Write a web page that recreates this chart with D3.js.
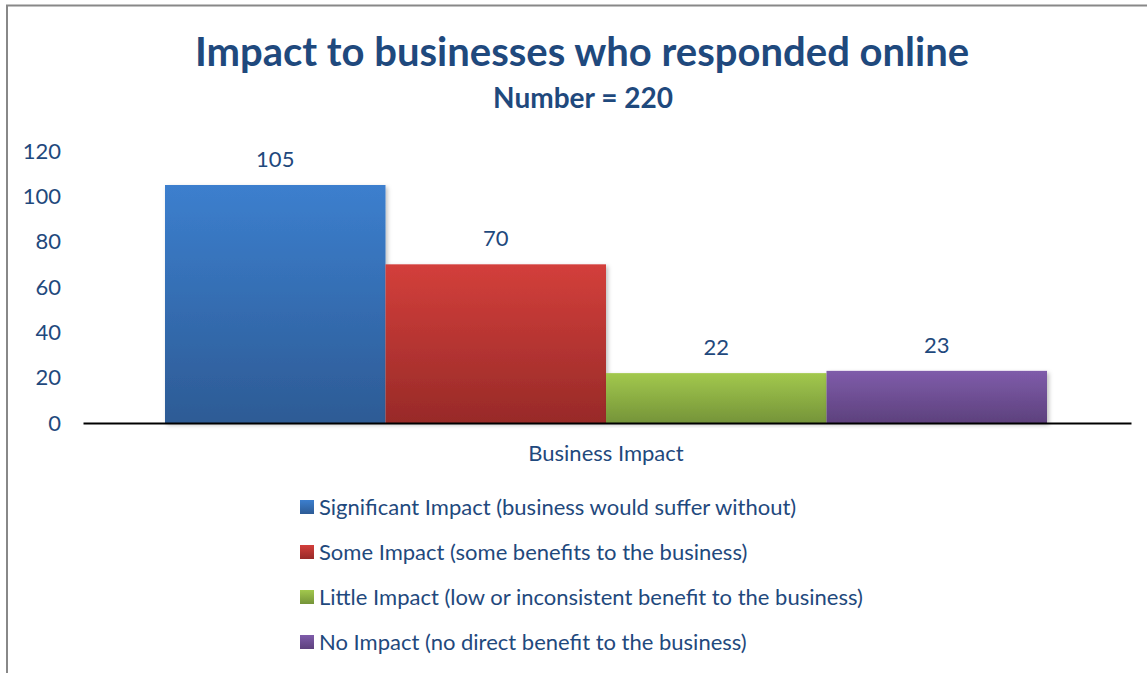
<!DOCTYPE html>
<html>
<head>
<meta charset="utf-8">
<script src="https://cdn.jsdelivr.net/npm/d3@7"></script>
<style>
  body { margin: 0; background: #fff; }
  svg { display: block; font-family: Lato, "Open Sans", sans-serif; }
</style>
</head>
<body>
<svg id="chart" width="1147" height="673"></svg>
<script>
const categories = [
  "Significant Impact (business would suffer without)",
  "Some Impact (some benefits to the business)",
  "Little Impact (low or inconsistent benefit to the business)",
  "No Impact (no direct benefit to the business)",
];
const values = [105, 70, 22, 23];
const yTicks = [0, 20, 40, 60, 80, 100, 120];
const groupLabel = "Business Impact";

const colors = [
  ["#3c7fce", "#2d5b95"],
  ["#d33f3b", "#982a28"],
  ["#a2c84d", "#759439"],
  ["#7f5caa", "#5d417d"],
];

const textColor = "#1f497d";
const svg = d3.select("#chart");

// frame (left + top edge only visible)
svg.append("path")
  .attr("d", "M7,673 V5.5 H1147")
  .attr("fill", "none")
  .attr("stroke", "#888")
  .attr("stroke-width", 2);

const defs = svg.append("defs");
colors.forEach((c, i) => {
  const g = defs.append("linearGradient")
    .attr("id", "grad" + i)
    .attr("x1", 0).attr("y1", 0).attr("x2", 0).attr("y2", 1);
  g.append("stop").attr("offset", "0%").attr("stop-color", c[0]);
  g.append("stop").attr("offset", "100%").attr("stop-color", c[1]);
});
const shadow = defs.append("filter").attr("id", "shadow")
  .attr("x", "-10%").attr("y", "-10%").attr("width", "120%").attr("height", "120%");
shadow.append("feDropShadow")
  .attr("dx", 2).attr("dy", 2).attr("stdDeviation", 2)
  .attr("flood-color", "#000").attr("flood-opacity", 0.25);

// titles
svg.append("text")
  .attr("x", 582).attr("y", 66)
  .attr("text-anchor", "middle")
  .attr("font-size", 40).attr("font-weight", "bold")
  .attr("fill", textColor)
  .text("Impact to businesses who responded online");
svg.append("text")
  .attr("x", 583).attr("y", 108)
  .attr("text-anchor", "middle")
  .attr("font-size", 28).attr("font-weight", "bold")
  .attr("fill", textColor)
  .text("Number = 220");

const x = d3.scaleBand()
  .domain(categories)
  .range([165, 1047])
  .padding(0);

const y = d3.scaleLinear()
  .domain([0, 120])
  .range([423, 151]);

// y axis (labels only)
const yAxis = svg.append("g")
  .attr("transform", "translate(61,0)")
  .call(d3.axisLeft(y).tickValues(yTicks).tickSize(0).tickPadding(0));
yAxis.select(".domain").remove();
yAxis.selectAll("text")
  .attr("font-size", 22)
  .attr("font-family", "Lato, 'Open Sans', sans-serif")
  .attr("fill", textColor);

// bars
svg.selectAll(".bar")
  .data(values)
  .enter()
  .append("rect")
  .attr("class", "bar")
  .attr("x", (d, i) => x(categories[i]))
  .attr("y", (d) => y(d))
  .attr("width", x.bandwidth())
  .attr("height", (d) => y(0) - y(d))
  .attr("fill", (d, i) => `url(#grad${i})`)
  .attr("filter", "url(#shadow)");

// value labels
svg.selectAll(".val")
  .data(values)
  .enter()
  .append("text")
  .attr("class", "val")
  .attr("x", (d, i) => x(categories[i]) + x.bandwidth() / 2)
  .attr("y", (d) => y(d) - 18)
  .attr("text-anchor", "middle")
  .attr("font-size", 22)
  .attr("fill", textColor)
  .text((d) => d);

// x axis baseline
const xAxis = svg.append("g")
  .attr("transform", `translate(0,${y(0)})`)
  .call(d3.axisBottom(d3.scaleLinear().range([83, 1131])).ticks(0).tickSizeOuter(0));
xAxis.select(".domain").attr("stroke", "#000").attr("stroke-width", 2);

svg.append("text")
  .attr("x", 606).attr("y", 461)
  .attr("text-anchor", "middle")
  .attr("font-size", 22)
  .attr("fill", textColor)
  .text(groupLabel);

// legend
const legend = svg.selectAll(".leg")
  .data(categories)
  .enter()
  .append("g")
  .attr("class", "leg")
  .attr("transform", (d, i) => `translate(300,${500 + i * 45})`);
legend.append("rect")
  .attr("width", 14).attr("height", 14)
  .attr("fill", (d, i) => `url(#grad${i})`);
legend.append("text")
  .attr("x", 19).attr("y", 15)
  .attr("font-size", 22)
  .attr("fill", textColor)
  .text((d) => d);
</script>
</body>
</html>
